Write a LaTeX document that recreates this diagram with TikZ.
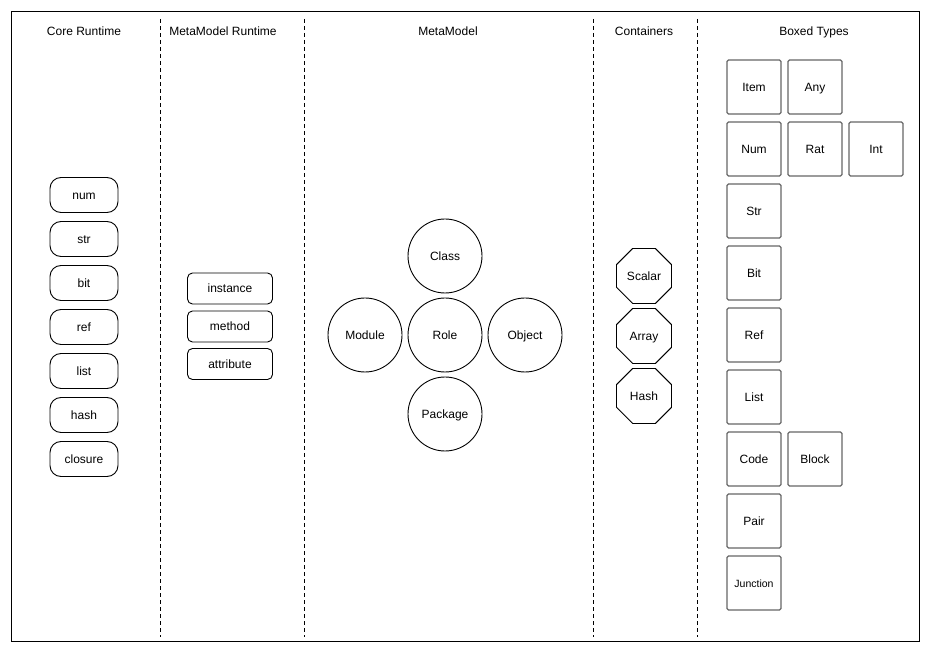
\documentclass[tikz,border=0pt]{standalone}
\usepackage{fontspec}
\setmainfont{Liberation Sans}
\usetikzlibrary{shapes.geometric}
\begin{document}
\begin{tikzpicture}[x=1pt,y=-1pt,
  every node/.style={font=\fontsize{12}{14}\selectfont, inner sep=0pt, text height=9pt, text depth=0pt},
  header/.style={anchor=center},
  sep/.style={draw=black, line width=0.9pt, dash pattern=on 4pt off 3pt},
  pill/.style={draw=black, line width=0.9pt, rounded corners=11pt, minimum width=68pt, minimum height=35pt},
  mbox/.style={draw=black, line width=0.9pt, rounded corners=5pt, minimum width=85pt, minimum height=31pt},
  mcirc/.style={draw=black, line width=0.9pt, circle, minimum size=74pt},
  cont/.style={draw=black, line width=0.9pt, regular polygon, regular polygon sides=8, minimum size=59.5pt},
  btype/.style={draw=black!60, line width=1.3pt, rounded corners=1.5pt, minimum width=54pt, minimum height=54pt},
]
\useasboundingbox (0,0) rectangle (930,652);
\fill[white] (0,0) rectangle (930,652);
\draw[line width=0.9pt] (11,11) rectangle (919,641);

% separators
\coordinate (s1t) at (160.5,19); \coordinate (s1b) at (160.5,637);
\coordinate (s2t) at (304.5,19); \coordinate (s2b) at (304.5,637);
\coordinate (s3t) at (593,19); \coordinate (s3b) at (593,637);
\coordinate (s4t) at (697,19); \coordinate (s4b) at (697,637);
\draw[sep] (s1t) -- (s1b);
\draw[sep] (s2t) -- (s2b);
\draw[sep] (s3t) -- (s3b);
\draw[sep] (s4t) -- (s4b);

% headers
\node[header] (h1) at (84,31.4) {Core Runtime};
\node[header] (h2) at (223,31.4) {MetaModel Runtime};
\node[header] (h3) at (448,31.4) {MetaModel};
\node[header] (h4) at (644,31.4) {Containers};
\node[header] (h5) at (814,31.4) {Boxed Types};

% core runtime
\node[pill] (num) at (84,195) {num};
\node[pill] (str) at (84,239) {str};
\node[pill] (bit) at (84,283) {bit};
\node[pill] (ref) at (84,327) {ref};
\node[pill] (list) at (84,371) {list};
\node[pill] (hash) at (84,415) {hash};
\node[pill] (closure) at (84,459) {closure};

% metamodel runtime
\node[mbox] (instance) at (230,288.5) {instance};
\node[mbox] (method) at (230,326.5) {method};
\node[mbox] (attribute) at (230,364) {attribute};

% metamodel
\node[mcirc] (Class) at (445,256) {Class};
\node[mcirc] (Role) at (445,335) {Role};
\node[mcirc] (Module) at (365,335) {Module};
\node[mcirc] (Object) at (525,335) {Object};
\node[mcirc] (Package) at (445,414) {Package};

% containers
\node[cont] (Scalar) at (644,276) {Scalar};
\node[cont] (Array) at (644,336) {Array};
\node[cont] (Hash) at (644,396) {Hash};

% boxed types
\node[btype] (Item) at (754,87) {Item};
\node[btype] (Any) at (815,87) {Any};
\node[btype] (Num) at (754,149) {Num};
\node[btype] (Rat) at (815,149) {Rat};
\node[btype] (Int) at (876,149) {Int};
\node[btype] (Str) at (754,211) {Str};
\node[btype] (Bit) at (754,273) {Bit};
\node[btype] (Ref) at (754,335) {Ref};
\node[btype] (List) at (754,397) {List};
\node[btype] (Code) at (754,459) {Code};
\node[btype] (Block) at (815,459) {Block};
\node[btype] (Pair) at (754,521) {Pair};
\node[btype, font=\fontsize{10.5}{12}\selectfont, text height=8.4pt] (Junction) at (754,583) {Junction};
\end{tikzpicture}
\end{document}
